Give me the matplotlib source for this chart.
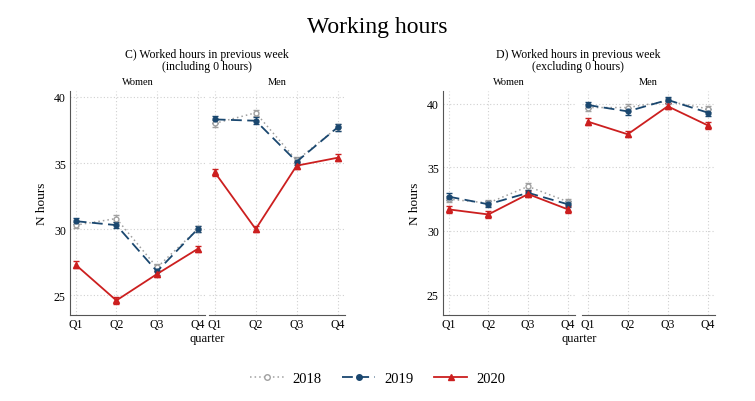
import matplotlib
matplotlib.use("Agg")
import matplotlib.pyplot as plt
from matplotlib.lines import Line2D
import numpy as np

plt.rcParams['font.family'] = ['Liberation Serif', 'DejaVu Serif']

quarters = ["Q1", "Q2", "Q3", "Q4"]
years = ["2018", "2019", "2020"]

# Panel C: including 0 hours
c_women = {"2018": [30.3, 30.8, 27.1, 30.0],
           "2019": [30.6, 30.3, 26.8, 30.0],
           "2020": [27.3, 24.6, 26.6, 28.5]}
c_men = {"2018": [38.0, 38.8, 35.2, 37.7],
         "2019": [38.3, 38.2, 35.1, 37.7],
         "2020": [34.3, 30.0, 34.8, 35.4]}
# Panel D: excluding 0 hours
d_women = {"2018": [32.5, 32.2, 33.5, 32.3],
           "2019": [32.7, 32.1, 33.0, 32.1],
           "2020": [31.7, 31.3, 32.9, 31.7]}
d_men = {"2018": [39.7, 39.7, 40.2, 39.6],
         "2019": [39.9, 39.4, 40.3, 39.3],
         "2020": [38.6, 37.6, 39.8, 38.3]}
ci_half = {"2018": 0.25, "2019": 0.25, "2020": 0.25}

yticks = [25, 30, 35, 40]

styles = {
    "2018": dict(color="#a0a0a0", ls=(0, (1, 2)), marker="o", mfc="white", mec="#a0a0a0", ms=3.5, lw=1.1),
    "2019": dict(color="#1a476f", ls=(0, (6, 3)), marker="o", mfc="#1a476f", mec="#1a476f", ms=3.5, lw=1.3),
    "2020": dict(color="#cc1f1f", ls="-", marker="^", mfc="#cc1f1f", mec="#cc1f1f", ms=4, lw=1.3),
}

W, H = 755, 402
fig = plt.figure(figsize=(W / 100, H / 100), dpi=100)

def fx(px):
    return px / W

def fy(py):
    return 1 - py / H

bottom = fy(316)
height = fy(92) - fy(316)

panels = [
    (c_women, 70, 205, "Women", True, (23.5, 40.45)),
    (c_men, 209, 345, "Men", False, (23.5, 40.45)),
    (d_women, 443, 575, "Women", True, (23.4, 41.0)),
    (d_men, 582, 715, "Men", False, (23.4, 41.0)),
]

x = np.arange(len(quarters))
for data, x0, x1, strip, left, ylim in panels:
    ax = fig.add_axes([fx(x0), bottom, fx(x1) - fx(x0), height])
    for y in years:
        st = dict(styles[y])
        vals = np.array(data[y])
        ax.errorbar(x, vals, yerr=ci_half[y], color=st["color"], ls=st["ls"], lw=st["lw"],
                    marker=st["marker"], mfc=st["mfc"], mec=st["mec"], ms=st["ms"],
                    elinewidth=1.0, capsize=2.5, capthick=1.0, zorder=3)
    ax.set_xlim(-0.14, 3.18)
    ax.set_ylim(*ylim)
    ax.set_xticks(x)
    ax.set_xticklabels(quarters, fontsize=8.5)
    ax.set_yticks(yticks)
    ax.grid(True, ls=(0, (1, 2)), color="#d0d0d0", lw=0.8)
    ax.set_axisbelow(True)
    ax.tick_params(axis="x", length=0, pad=2.5, labelsize=8.5)
    ax.tick_params(axis="y", length=0, pad=3, labelsize=8.5)
    for s in ["top", "right"]:
        ax.spines[s].set_visible(False)
    ax.spines["bottom"].set_color("#555555")
    ax.spines["left"].set_color("#555555")
    if left:
        ax.set_ylabel("N hours", fontsize=9.5, labelpad=4)
    else:
        ax.spines["left"].set_visible(False)
        ax.set_yticklabels([])
    ax.set_title(strip, fontsize=7.5, pad=5)

fig.text(0.5, fy(28), "Working hours", ha="center", va="center", fontsize=17)
fig.text(fx(207), fy(61), "C) Worked hours in previous week\n(including 0 hours)",
         ha="center", va="center", fontsize=8.5, linespacing=0.95)
fig.text(fx(578), fy(61), "D) Worked hours in previous week\n(excluding 0 hours)",
         ha="center", va="center", fontsize=8.5, linespacing=0.95)
fig.text(fx(207), fy(339), "quarter", ha="center", va="center", fontsize=9)
fig.text(fx(579), fy(339), "quarter", ha="center", va="center", fontsize=9)

handles = []
for y in years:
    st = styles[y]
    handles.append(Line2D([0], [0], color=st["color"], ls=st["ls"], lw=st["lw"], marker=st["marker"],
                          mfc=st["mfc"], mec=st["mec"], ms=st["ms"] + 0.5))
fig.legend(handles, years, loc="center", bbox_to_anchor=(0.5, fy(379)), ncol=3, frameon=False,
           fontsize=10.5, handlelength=2.3, columnspacing=1.4, handletextpad=0.6)

fig.savefig("out.png", dpi=100, facecolor="white")
